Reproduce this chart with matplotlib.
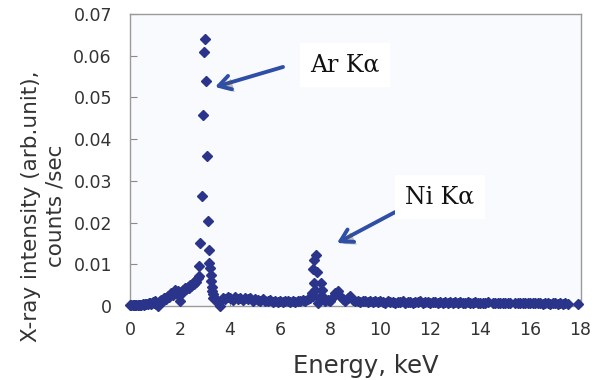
import numpy as np
import matplotlib
matplotlib.use("Agg")
import matplotlib.pyplot as plt
import matplotlib.patheffects as pe

# --- data -------------------------------------------------------------
# low-energy background + rising slope, 0.00 .. 2.70 keV (0.05 keV channels)
energy_low = np.round(np.linspace(0.0, 2.70, 55), 2)
counts_low = [
    .0003, .0003, .0002, .0003, .0003, .0002, .0003, .0003, .0002, .0003,
    .0004, .0003, .0004, .0005, .0004, .0006, .0007, .0005, .0009, .0006,
    .0011, .0004, .0001, .0008, .0012, .0015, .0011, .0018, .0020, .0016,
    .0024, .0021, .0027, .0030, .0026, .0034, .0038, .0031, .0036, .0024,
    .0012, .0030, .0039, .0035, .0043, .0040, .0046, .0042, .0050, .0047,
    .0055, .0052, .0060, .0058, .0066,
]

# Ar K-alpha peak
energy_ar = [2.75, 2.77, 2.80, 2.89, 2.91, 2.95, 3.00, 3.03, 3.08, 3.11,
             3.15, 3.17, 3.20, 3.22, 3.24, 3.27, 3.29, 3.31, 3.33]
counts_ar = [.0072, .0097, .0150, .0263, .0458, .0608, .0639, .0540, .0360, .0204,
             .0134, .0102, .0090, .0075, .0060, .0046, .0036, .0028, .0020]

# background between the peaks, 3.4 .. 7.2 keV
energy_mid = np.round(np.linspace(3.4, 7.2, 39), 2)
counts_mid = [
    .0018, .0008, .0001, .0020, .0016, .0022, .0019, .0015, .0021, .0017,
    .0019, .0014, .0020, .0016, .0018, .0013, .0017, .0015, .0012, .0016,
    .0013, .0011, .0014, .0010, .0012, .0009, .0012, .0010, .0013, .0011,
    .0009, .0012, .0010, .0013, .0011, .0014, .0012, .0016, .0020,
]

# Ni K-alpha peak
energy_ni = [7.26, 7.30, 7.33, 7.36, 7.36, 7.40, 7.43, 7.47, 7.50, 7.55,
             7.63, 7.69, 7.75, 7.80]
counts_ni = [.0030, .0025, .0088, .0110, .0056, .0038, .0122, .0082, .0008, .0020,
             .0055, .0038, .0020, .0012]

# high-energy tail, 7.9 .. 17.5 keV (nan = missing channel)
energy_high = np.round(np.linspace(7.9, 17.5, 97), 2)
counts_high = [
    .0015, .0012, .0022, .0030, .0035, .0024, .0016, .0012, .0018, .0025, .0015, .0011,
    .0013, .0010, .0012, .0011, .0009, .0012, .0010, .0011, .0009, .0011,
    .0010, .0008, .0011, .0009, .0010, .0008, .0010, .0009, .0011, .0008,
    .0010, .0009, .0008, .0010, .0009, .0011, .0008, .0009, .0010, .0008,
    .0009, .0010, .0008, .0009, .0007, .0010, .0008, .0009, .0007, .0009,
    .0008, .0010, .0008, .0007, .0009, .0008, .0007, .0009, .0008, .0007,
    .0008, .0007, .0009, np.nan, .0007, .0008, .0006, .0008, .0007, .0006,
    .0008, .0007, np.nan, .0007, .0006, .0008, .0006, .0007, .0006, .0007,
    .0006, .0008, .0006, .0007, .0005, .0007, .0006, .0005, .0007, .0006,
    .0005, .0006, .0005, .0006, .0005,
]
energy_end = [17.92]
counts_end = [.0004]

energy = np.concatenate([energy_low, energy_ar, energy_mid, energy_ni, energy_high, energy_end])
counts = np.concatenate([counts_low, counts_ar, counts_mid, counts_ni, counts_high, counts_end])

x_ticks = [0, 2, 4, 6, 8, 10, 12, 14, 16, 18]
y_ticks = [0, 0.01, 0.02, 0.03, 0.04, 0.05, 0.06, 0.07]
y_tick_labels = ["0", "0.01", "0.02", "0.03", "0.04", "0.05", "0.06", "0.07"]

# --- figure --------------------------------------------------------------
plt.rcParams["font.family"] = ["DejaVu Sans"]

fig = plt.figure(figsize=(6.02, 3.8), dpi=100)
ax = fig.add_axes([130 / 602, 74 / 380, 451 / 602, 292 / 380])
ax.set_facecolor("#f9fafd")

ax.plot(energy, counts, ls="none", marker="D", ms=5, color="#29348a",
        mec="#29348a", clip_on=False, zorder=3)

ax.set_xlim(0, 18.04)
ax.set_ylim(0, 0.07)
ax.set_xticks(x_ticks)
ax.set_yticks(y_ticks)
ax.set_yticklabels(y_tick_labels)
ax.tick_params(direction="in", length=5, color="#8a8a8a", labelsize=12.5,
               labelcolor="#333333")
ax.tick_params(axis="y", pad=13)
ax.tick_params(axis="x", pad=11)
for sp in ax.spines.values():
    sp.set_color("#9a9a9a")
    sp.set_linewidth(1.0)

ax.set_xlabel("Energy, keV", fontsize=17.5, color="#333333")
ax.xaxis.set_label_coords(0.523, -0.165)
ax.set_ylabel("X-ray intensity (arb.unit),\ncounts /sec", fontsize=15.5,
              color="#333333", linespacing=1.25)
ax.yaxis.set_label_coords(-0.144, 0.342)

# --- annotations ----------------------------------------------------------
arrow_kw = dict(arrowstyle="->, head_length=0.85, head_width=0.5",
                color="#2f4ea6", lw=2.8, shrinkA=0, shrinkB=0,
                path_effects=[pe.SimplePatchShadow(offset=(2, -2), alpha=0.35),
                              pe.Normal()])
ax.annotate("", xy=(3.4, 0.0525), xytext=(6.12, 0.0573), arrowprops=arrow_kw)
ax.annotate("", xy=(8.28, 0.0151), xytext=(10.6, 0.0225), arrowprops=arrow_kw)

txt_kw = dict(family="DejaVu Serif", fontsize=17, color="#111111",
              ha="center", va="center",
              bbox=dict(boxstyle="square,pad=0.45", fc="white", ec="none"))
ax.text(8.6, 0.0578, "Ar Kα", **txt_kw)
ax.text(12.4, 0.0261, "Ni Kα", **txt_kw)

fig.savefig("out.png", dpi=100, facecolor="white")
